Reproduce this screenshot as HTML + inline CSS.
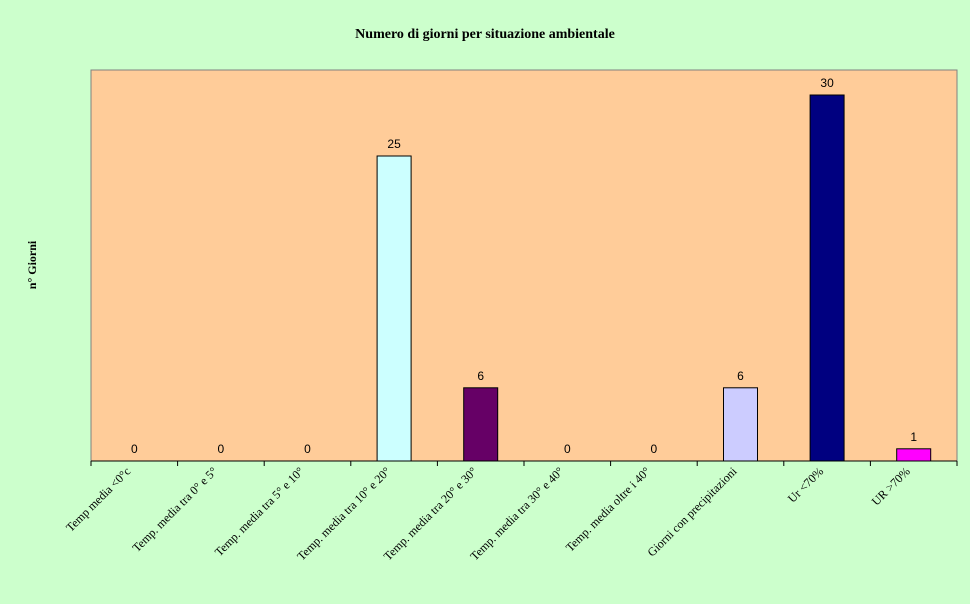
<!DOCTYPE html>
<html><head><meta charset="utf-8"><style>body{margin:0;background:#ccffcc}svg{display:block}</style></head>
<body>
<svg id="c" width="970" height="604" xmlns="http://www.w3.org/2000/svg">
<rect x="0" y="0" width="970" height="604" fill="#ccffcc"/>
<text x="485" y="38" text-anchor="middle" font-family="Liberation Serif, serif" font-weight="bold" font-size="14">Numero di giorni per situazione ambientale</text>
<text transform="translate(36,265) rotate(-90)" text-anchor="middle" font-family="Liberation Serif, serif" font-weight="bold" font-size="12">n° Giorni</text>
<rect x="91" y="70" width="866" height="391" fill="#ffcc99" stroke="#808080" stroke-width="1"/>
<g id="bars"></g>
</svg>
<script>
const categories=["Temp media <0°c","Temp. media tra 0° e 5°","Temp. media tra 5° e 10°","Temp. media tra 10° e 20°","Temp. media tra 20° e 30°","Temp. media tra 30° e 40°","Temp. media oltre i 40°","Giorni con precipitazioni","Ur  <70%","UR >70%"];
const values=[0,0,0,25,6,0,0,6,30,1];
const colors=["#ccffff","#ccffff","#ccffff","#ccffff","#660066","#ccffff","#ccffff","#ccccff","#000080","#ff00ff"];
const NS="http://www.w3.org/2000/svg";
const x0=91,x1=957,y0=461,pxPerUnit=12.2;
const step=(x1-x0)/categories.length;
const xc=i=>x0+step*(i+0.5);
const y=v=>y0-v*pxPerUnit;
const g=document.getElementById('bars');
function mk(t,a){const e=document.createElementNS(NS,t);for(const k in a)e.setAttribute(k,a[k]);g.appendChild(e);return e;}
values.forEach((v,i)=>{
  if(v>0){const r=mk('rect',{x:xc(i)-17,y:y(v),width:34,height:v*pxPerUnit,fill:colors[i],stroke:'#000','stroke-width':1});
  
  }
  const t=mk('text',{x:xc(i),y:y(v)-8,'text-anchor':'middle','font-family':'Liberation Sans, sans-serif','font-size':12});
  t.textContent=v;
  
  
  const l=mk('text',{'text-anchor':'end','font-family':'Liberation Serif, serif','font-size':12,transform:'translate('+(xc(i)-3)+',472) rotate(-45)'});
  l.textContent=categories[i];
  
  
});
for(let i=0;i<=categories.length;i++){
  const tk=mk('line',{x1:x0+step*i,x2:x0+step*i,y1:y0,y2:y0+5,stroke:'#000'});
  
  
}
const ax=mk('line',{x1:x0,x2:x1,y1:y0,y2:y0,stroke:'#000'});


</script>
</body></html>
